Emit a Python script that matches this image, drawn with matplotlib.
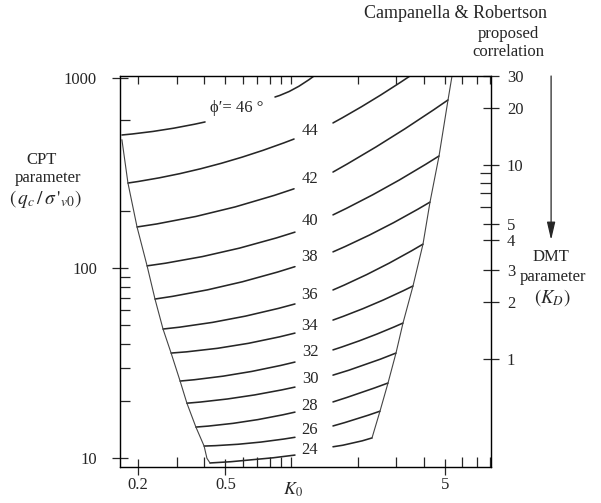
import numpy as np
import matplotlib.pyplot as plt
from matplotlib.path import Path
from matplotlib.patches import PathPatch
from matplotlib.ticker import FixedLocator, FixedFormatter, NullFormatter

plt.rcParams['font.family'] = ['Liberation Serif', 'DejaVu Serif']
plt.rcParams['mathtext.fontset'] = 'stix'

INK = '#262626'

# friction angle contours (phi' in degrees), each split into a left and a
# right part around its label: start, middle, end
phi = [24, 26, 28, 30, 32, 34, 36, 38, 40, 42, 44, 46]

left_k = [
    [0.4255, 0.661, 1.037],
    [0.400, 0.644, 1.037],
    [0.367, 0.617, 1.037],
    [0.334, 0.589, 1.037],
    [0.311, 0.5675, 1.037],
    [0.283, 0.5415, 1.037],
    [0.260, 0.519, 1.037],
    [0.239, 0.498, 1.037],
    [0.220, 0.4775, 1.037],
    [0.198, 0.451, 1.027],
    [0.180, 0.430, 1.027],
    [0.169, 0.261, 0.404],
]
left_q = [
    [9.45, 9.8, 10.4],
    [11.6, 12.0, 12.9],
    [14.6, 15.6, 17.5],
    [19.5, 21.0, 23.7],
    [25.5, 27.8, 32.1],
    [35.8, 39.0, 45.6],
    [47.9, 53.8, 64.9],
    [68.9, 80.7, 102],
    [103, 121, 155],
    [165, 198, 262],
    [281, 345, 479],
    [503, 535, 589],
]
right_k = [
    [1.545, 1.896, 2.326],
    [1.545, 1.977, 2.529],
    [1.545, 2.062, 2.751],
    [1.545, 2.150, 2.991],
    [1.545, 2.231, 3.219],
    [1.545, 2.350, 3.575],
    [1.545, 2.477, 3.970],
    [1.545, 2.570, 4.273],
    [1.545, 2.693, 4.697],
    [1.545, 2.823, 5.161],
    [1.545, 2.301, 3.464],
    [0.841, 1.027, 1.266],
]
right_q = [
    [11.5, 12.0, 12.8],
    [14.8, 16.1, 17.7],
    [19.8, 22.1, 24.9],
    [27.4, 31.0, 35.8],
    [37.2, 43.2, 51.5],
    [53.4, 64.5, 80.7],
    [76.9, 99.2, 134],
    [122, 161, 223],
    [191, 266, 390],
    [321, 485, 769],
    [582, 759, 1028],
    [797, 878, 1028],
]

# label positions
label_k = 1.214
label_q = [11.06, 14.1, 18.8, 26.1, 36.3, 49.7, 72.4, 114.7, 177, 295, 528]

# envelope of the chart
bound_left_k = [0.169, 0.180, 0.198, 0.220, 0.239, 0.260, 0.283, 0.311,
                0.334, 0.367, 0.400, 0.412, 0.4255]
bound_left_q = [474, 281, 165, 103, 68.9, 47.9, 35.8, 25.5,
                19.5, 14.6, 11.6, 10.0, 9.45]
bound_right_k = [5.382, 5.161, 4.697, 4.273, 3.970, 3.575, 3.219, 2.991,
                 2.751, 2.529, 2.326]
bound_right_q = [1028, 769, 390, 223, 134, 80.7, 51.5, 35.8,
                 24.9, 17.7, 12.8]

# right hand DMT scale (K_D) placed against q_c/sigma'_v0
kd_labels = ['30', '20', '10', '5', '4', '3', '2', '1']
kd_at_q = [1025, 698, 350, 171, 141, 98, 66.5, 33.3]
kd_minor_at_q = [317, 281, 249, 210]


def curve(ax, ks, qs):
    # quadratic bezier (in log space) passing through the three read points
    lk, lq = np.log10(ks), np.log10(qs)
    ck = 2 * lk[1] - (lk[0] + lk[2]) / 2
    cq = 2 * lq[1] - (lq[0] + lq[2]) / 2
    verts = [(ks[0], qs[0]), (10 ** ck, 10 ** cq), (ks[2], qs[2])]
    path = Path(verts, [Path.MOVETO, Path.CURVE3, Path.CURVE3])
    ax.add_patch(PathPatch(path, fill=False, edgecolor=INK, lw=1.15,
                           capstyle='round'))


fig = plt.figure(figsize=(6.01, 5.03), dpi=100)
ax = fig.add_axes([120 / 601, 36 / 503, 371 / 601, 391 / 503])
ax.set_xscale('log')
ax.set_yscale('log')
ax.set_xlim(0.1656, 8.10)
ax.set_ylim(9.0, 1028)

for i in range(len(phi)):
    curve(ax, left_k[i], left_q[i])
    curve(ax, right_k[i], right_q[i])
ax.plot(bound_left_k, bound_left_q, color='#444444', lw=0.8)
ax.plot(bound_right_k, bound_right_q, color='#444444', lw=0.8)

for p, q in zip(phi[:-1], label_q):
    ax.text(label_k, q, str(p), ha='center', va='center', fontsize=12,
            color=INK)
ax.text(0.565, 698, 'ϕ′= 46 °', ha='center', va='center',
        fontsize=12, color=INK)

for s in ax.spines.values():
    s.set_linewidth(0.9)
    s.set_color(INK)

ax.xaxis.set_major_locator(FixedLocator([0.2, 0.5, 5]))
ax.xaxis.set_major_formatter(FixedFormatter(['0.2', '0.5', '5']))
ax.xaxis.set_minor_locator(FixedLocator([0.3, 0.4, 0.6, 0.7, 0.8, 0.9, 1,
                                         2, 3, 4, 6, 7, 8]))
ax.xaxis.set_minor_formatter(NullFormatter())
ax.yaxis.set_major_locator(FixedLocator([10, 100, 1000]))
ax.yaxis.set_major_formatter(FixedFormatter(['10', '100', '1000']))
ax.yaxis.set_minor_locator(FixedLocator([20, 30, 40, 50, 60, 70, 80, 90,
                                         200, 600]))
ax.yaxis.set_minor_formatter(NullFormatter())
ax.tick_params(which='major', direction='inout', length=11, width=0.9,
               color=INK, labelsize=12, labelcolor=INK)
ax.tick_params(which='minor', direction='in', length=7, width=0.9,
               color=INK)
ax.tick_params(axis='y', which='major', pad=11)
ax.tick_params(axis='x', which='major', pad=2)

top = ax.twiny()
top.set_xscale('log')
top.set_xlim(ax.get_xlim())
top.xaxis.set_major_locator(FixedLocator([0.2, 0.3, 0.4, 0.5, 0.6, 0.7,
                                          0.8, 0.9, 1, 2, 3, 4, 5, 6, 7, 8]))
top.xaxis.set_minor_locator(FixedLocator([]))
top.xaxis.set_major_formatter(NullFormatter())
top.tick_params(direction='in', length=6, width=0.9, color=INK)

right = ax.twinx()
right.set_yscale('log')
right.set_ylim(ax.get_ylim())
right.yaxis.set_major_locator(FixedLocator(kd_at_q))
right.yaxis.set_major_formatter(FixedFormatter(kd_labels))
right.yaxis.set_minor_locator(FixedLocator(kd_minor_at_q))
right.yaxis.set_minor_formatter(NullFormatter())
right.tick_params(which='major', direction='inout', length=11, width=0.9,
                  color=INK, labelsize=12, labelcolor=INK, pad=6)
right.tick_params(which='minor', direction='in', length=8, width=0.9,
                  color=INK)

right.annotate('', xy=(1.162, 141), xytext=(1.162, 1028),
               xycoords=right.get_yaxis_transform(),
               textcoords=right.get_yaxis_transform(),
               annotation_clip=False,
               arrowprops=dict(arrowstyle='-|>,head_length=0.6,head_width=0.14',
                               mutation_scale=18, color=INK, lw=0.9,
                               shrinkA=0, shrinkB=0))


def ftext(x, y, s, size=12):
    fig.text(x / 601, 1 - y / 503, s, ha='center', va='center',
             fontsize=size, color=INK)


ftext(455, 14, 'Campanella & Robertson', 13)
ftext(508, 34, 'proposed')
ftext(508, 52, 'correlation')
ftext(551, 257, 'DMT')
ftext(553, 277, 'parameter')
ftext(552, 298, r'$(K_D)$', 13.5)
ftext(42, 160, 'CPT')
ftext(48, 178, 'parameter')
ftext(45, 199, r"$(\,q_c\,/\,\sigma\,'_{v0})$", 14)
ftext(293, 490, r'$K_0$', 13)

fig.savefig('out.png', dpi=100)
